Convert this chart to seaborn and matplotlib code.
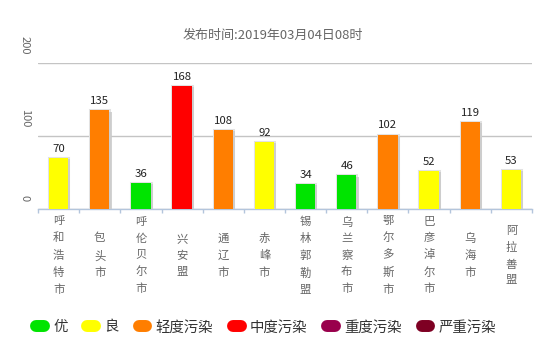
import matplotlib
matplotlib.use("Agg")
import matplotlib.pyplot as plt
import matplotlib.patheffects as pe
from matplotlib.lines import Line2D
from matplotlib.transforms import ScaledTranslation
import seaborn as sns
import pandas as pd

cities = ["呼和浩特市", "包头市", "呼伦贝尔市", "兴安盟", "通辽市", "赤峰市",
          "锡林郭勒盟", "乌兰察布市", "鄂尔多斯市", "巴彦淖尔市", "乌海市", "阿拉善盟"]
aqi = [70, 135, 36, 168, 108, 92, 34, 46, 102, 52, 119, 53]
levels = ["良", "轻度污染", "优", "中度污染", "轻度污染", "良",
          "优", "优", "轻度污染", "良", "轻度污染", "良"]
level_names = ["优", "良", "轻度污染", "中度污染", "重度污染", "严重污染"]
level_colors = ["#00E400", "#FFFF00", "#FF7E00", "#FF0000", "#99004C", "#7E0023"]
title = "发布时间:2019年03月04日08时"
yticks = [0, 100, 200]

sns.set_theme(style="white")
plt.rcParams['font.family'] = ['Noto Sans CJK SC', 'DejaVu Sans']

W, H = 548, 339
df = pd.DataFrame({"city": cities, "aqi": aqi, "level": levels})
fig = plt.figure(figsize=(W / 100, H / 100), dpi=100)
ax = fig.add_axes([38 / W, (H - 209) / H, 494 / W, 146 / H])

sns.barplot(data=df, x="city", y="aqi", hue="level", hue_order=level_names,
            palette=dict(zip(level_names, level_colors)), dodge=False,
            width=0.47, saturation=1, ax=ax, legend=False, linewidth=0)

for p in ax.patches:
    p.set_path_effects([
        pe.Stroke(linewidth=2.2, foreground="#e2e2e2"),
        pe.SimplePatchShadow(offset=(1.5, -0.8), shadow_rgbFace="#c8c8c8", alpha=0.8),
        pe.Normal(),
    ])
    p.set_zorder(3)

for cont in ax.containers:
    ax.bar_label(cont, padding=3, fontsize=8.2, color="#222222")

ax.set_xlim(-0.5, len(cities) - 0.5)
ax.set_ylim(0, 200)
ax.set_xlabel("")
ax.set_ylabel("")

axis_color = "#b3c5dc"
for s in ["left", "top", "right"]:
    ax.spines[s].set_visible(False)
ax.spines["bottom"].set_color(axis_color)
ax.spines["bottom"].set_linewidth(1)

ax.set_axisbelow(True)
ax.set_yticks(yticks)
ax.yaxis.grid(True, color="#c4c4c4", linewidth=1)
ax.xaxis.grid(False)

ax.set_xticks(range(len(cities)), ["\n".join(c) for c in cities])
ax.set_xticks([i - 0.5 for i in range(len(cities) + 1)], minor=True)
ax.tick_params(axis="x", which="major", length=0, pad=33.5, labelsize=8.2, labelcolor="#666666")
ax.tick_params(axis="x", which="minor", length=3.2, width=1, color=axis_color, direction="out", bottom=True)
for lbl in ax.get_xticklabels():
    lbl.set_va("center")
    lbl.set_linespacing(1.72)
    lbl.set_multialignment("center")

ax.tick_params(axis="y", length=0, pad=6, labelsize=8, labelcolor="#666666")
for lbl in ax.get_yticklabels():
    lbl.set_rotation(-90)
    lbl.set_va("bottom")
    lbl.set_ha("right")
    lbl.set_transform(lbl.get_transform() + ScaledTranslation(0, 6 / 72, fig.dpi_scale_trans))

fig.text(272.7 / W, 1 - 35 / H, title, ha="center", va="center", fontsize=9.4, color="#666666")

handles = [Line2D([0], [0], color=c, lw=8.6, solid_capstyle="round") for c in level_colors]
fig.legend(handles, level_names, loc="center", bbox_to_anchor=(266 / W, 1 - 327.5 / H),
           ncol=6, frameon=False, fontsize=10.4, handlelength=0.55, handletextpad=0.62,
           columnspacing=1.38, borderpad=0, labelcolor="#333333")

fig.savefig("out.png", dpi=100)
